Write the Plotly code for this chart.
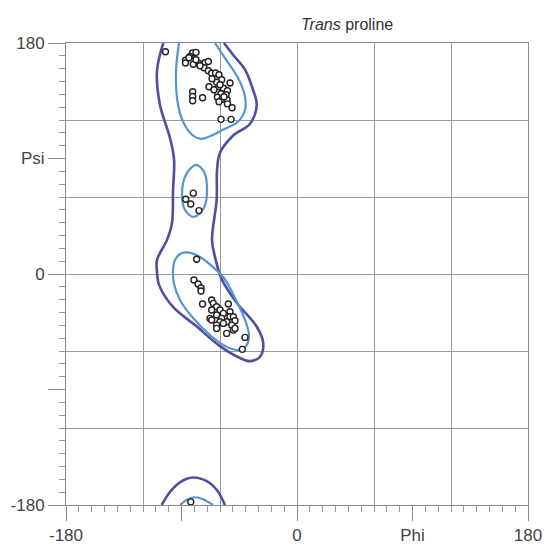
import plotly.graph_objects as go

# ---- contour outlines (phi, psi) ----
outer_main_phi = [-104.2, -109.1, -106.8, -99.0, -95.8, -96.6, -97.4, -101.3, -109.1, -109.1, -107.5, -96.6,
                  -79.5, -60.0, -44.4, -36.6, -28.8, -26.3, -31.2, -46.8, -58.4, -63.9, -66.2, -62.6, -62.3,
                  -60.0, -49.9, -36.6, -31.4, -34.3, -40.5, -49.9, -56.9]
outer_main_psi = [180, 158.4, 131.9, 106.1, 89.0, 65.6, 39.8, 26.6, 11.0, 1.6, -8.5, -25.7,
                  -39.8, -56.2, -65.5, -67.9, -64.5, -53.8, -41.3, -22.6, -4.6, 13.3, 26.6, 57.8, 81.2,
                  94.4, 107.7, 117.1, 131.9, 143.6, 159.2, 170.9, 180]

outer_bottom_phi = [-105.4, -99.0, -91.2, -81.2, -69.3, -62.3, -56.1]
outer_bottom_psi = [-180, -169.9, -162.3, -158.6, -162.0, -168.5, -180]

inner_top_phi = [-91.9, -94.3, -92.7, -88.0, -81.8, -74.8, -67.0, -57.7, -46.0, -40.5, -40.5, -46.0, -55.3, -63.9]
inner_top_psi = [180, 157.6, 131.9, 117.0, 108.5, 105.3, 107.7, 112.4, 118.6, 128.0, 138.1, 152.9, 167.0, 180]

inner_mid_phi = [-78.7, -72.5, -70.1, -72.5, -80.3, -87.3, -89.6, -86.5, -78.7]
inner_mid_psi = [85.1, 79.6, 65.6, 51.6, 44.5, 50.0, 61.7, 77.3, 85.1]

inner_low_phi = [-95.1, -90.4, -84.9, -75.6, -65.5, -56.9, -47.5, -40.5, -37.4, -39.7, -46.0, -56.1, -67.8,
                 -81.0, -91.2, -95.8, -96.6, -95.1]
inner_low_psi = [11.0, 16.0, 16.8, 13.3, 5.5, -3.1, -20.2, -35.8, -47.5, -56.1, -59.2, -56.1, -47.5,
                 -34.3, -20.2, -7.8, 3.2, 11.0]

inner_bottom_phi = [-91.0, -86.5, -80.3, -73.2, -65.5]
inner_bottom_psi = [-180, -176.3, -174.0, -175.5, -180]

# ---- observed residues (phi, psi) ----
pts_phi = [-102.5, -81.3, -78.7, -83.4, -86.9, -86.9, -80.8, -76.4, -71.7, -69.1, -72.5, -69.1, -66.5,
           -63.5, -60.8, -58.7, -52.2, -62.6, -68.6, -61.3, -57.3, -54.2, -62.0, -59.2, -55.3, -62.0,
           -58.4, -54.5, -54.2, -50.6, -81.3, -81.3, -81.3, -73.6, -59.2, -51.4, -60.0, -64.7, -56.9,
           -60.8, -66.2, -75.6, -78.7, -84.2,
           -80.8, -86.7, -82.8, -76.4,
           -78.2, -80.3, -77.1, -74.8, -74.8, -73.6, -66.5, -65.2, -53.5, -62.6, -66.5, -60.0, -57.4,
           -52.2, -67.8, -62.6, -58.7, -52.2, -49.6, -66.5, -60.0, -54.8, -48.3, -62.6, -57.4, -50.9,
           -62.6, -54.8, -49.6, -48.3, -40.5, -42.6,
           -82.8]
pts_psi = [173.2, 172.2, 172.7, 169.5, 166.6, 164.4, 163.5, 164.0, 164.6, 165.6, 160.7, 158.4, 156.4,
           156.6, 155.3, 151.4, 148.8, 149.4, 145.9, 144.9, 144.7, 142.8, 141.6, 140.4, 139.7, 137.7,
           136.2, 135.8, 132.6, 129.5, 142.0, 138.3, 135.0, 137.3, 120.5, 120.5, 147.5, 143.6, 138.1,
           134.2, 152.1, 162.3, 167.0, 168.5,
           63.0, 58.3, 54.6, 49.4,
           11.5, -4.7, -7.8, -10.9, -13.3, -23.4, -20.3, -22.9, -23.4, -25.5, -28.1, -28.1, -30.7,
           -29.4, -34.6, -32.0, -34.6, -33.3, -33.3, -35.9, -37.2, -37.2, -36.4, -39.8, -38.5, -39.8,
           -42.4, -46.3, -43.7, -42.4, -49.4, -58.7,
           -177.6]

grid_vals = [-180, -120, -60, 0, 60, 120, 180]
tick_vals = [-180, -90, 0, 90, 180]
x_tick_text = ["-180", "", "0", "Phi", "180"]
y_tick_text = ["-180", "", "0", "Psi", "180"]

OUTER = "rgb(80,78,160)"
INNER = "rgb(84,150,210)"

fig = go.Figure()

def contour(px, py, color, width):
    fig.add_trace(go.Scatter(x=px, y=py, mode="lines", line=dict(color=color, width=width, shape="spline", smoothing=1.0),
                             hoverinfo="skip", showlegend=False))

contour(outer_main_phi, outer_main_psi, OUTER, 2.6)
contour(outer_bottom_phi, outer_bottom_psi, OUTER, 2.6)
contour(inner_top_phi, inner_top_psi, INNER, 2.2)
contour(inner_mid_phi, inner_mid_psi, INNER, 2.2)
contour(inner_low_phi, inner_low_psi, INNER, 2.2)
contour(inner_bottom_phi, inner_bottom_psi, INNER, 2.2)

fig.add_trace(go.Scatter(x=pts_phi, y=pts_psi, mode="markers",
                         marker=dict(symbol="circle", size=6, color="white", line=dict(color="#222222", width=1.4)),
                         showlegend=False, hoverinfo="skip"))

# invisible trace to activate the tick axes
fig.add_trace(go.Scatter(x=[-180, 180], y=[-180, 180], xaxis="x2", yaxis="y2", mode="markers",
                         marker=dict(opacity=0), showlegend=False, hoverinfo="skip"))

font = dict(family="Liberation Sans, Arial, sans-serif", size=17, color="#444444")

fig.update_layout(
    width=544, height=544,
    margin=dict(l=66, r=16, t=43, b=39, autoexpand=False),
    paper_bgcolor="white", plot_bgcolor="white",
    xaxis=dict(range=[-180, 180], tickvals=grid_vals, showticklabels=False, ticks="", automargin=False,
               showgrid=True, gridcolor="#9a9a9a", gridwidth=1, zeroline=False,
               showline=True, mirror=True, linecolor="#8a8a8a", linewidth=1),
    yaxis=dict(range=[-180, 180], tickvals=grid_vals, showticklabels=False, ticks="", automargin=False,
               showgrid=True, gridcolor="#9a9a9a", gridwidth=1, zeroline=False,
               showline=True, mirror=True, linecolor="#8a8a8a", linewidth=1),
    xaxis2=dict(range=[-180, 180], overlaying="x", side="bottom", anchor="y2", automargin=False,
                tickvals=tick_vals, ticktext=x_tick_text, ticks="outside", ticklen=15, tickcolor="#8a8a8a",
                tickfont=font, showgrid=False, zeroline=False, showline=False,
                minor=dict(tick0=-180, dtick=10, ticks="outside", ticklen=6, tickcolor="#9a9a9a", showgrid=False)),
    yaxis2=dict(range=[-180, 180], overlaying="y", side="left", anchor="x2", automargin=False,
                tickvals=tick_vals, ticktext=y_tick_text, ticks="outside", ticklen=17, tickcolor="#8a8a8a",
                tickfont=font, showgrid=False, zeroline=False, showline=False,
                minor=dict(tick0=-180, dtick=10, ticks="outside", ticklen=6, tickcolor="#9a9a9a", showgrid=False)),
    annotations=[dict(text="<i>Trans</i> proline", xref="paper", yref="paper", x=0.608, y=1,
                      xanchor="center", yanchor="middle", yshift=19, showarrow=False,
                      font=dict(family="Liberation Sans, Arial, sans-serif", size=16, color="#333333"))],
)

fig.write_html("out.html")
